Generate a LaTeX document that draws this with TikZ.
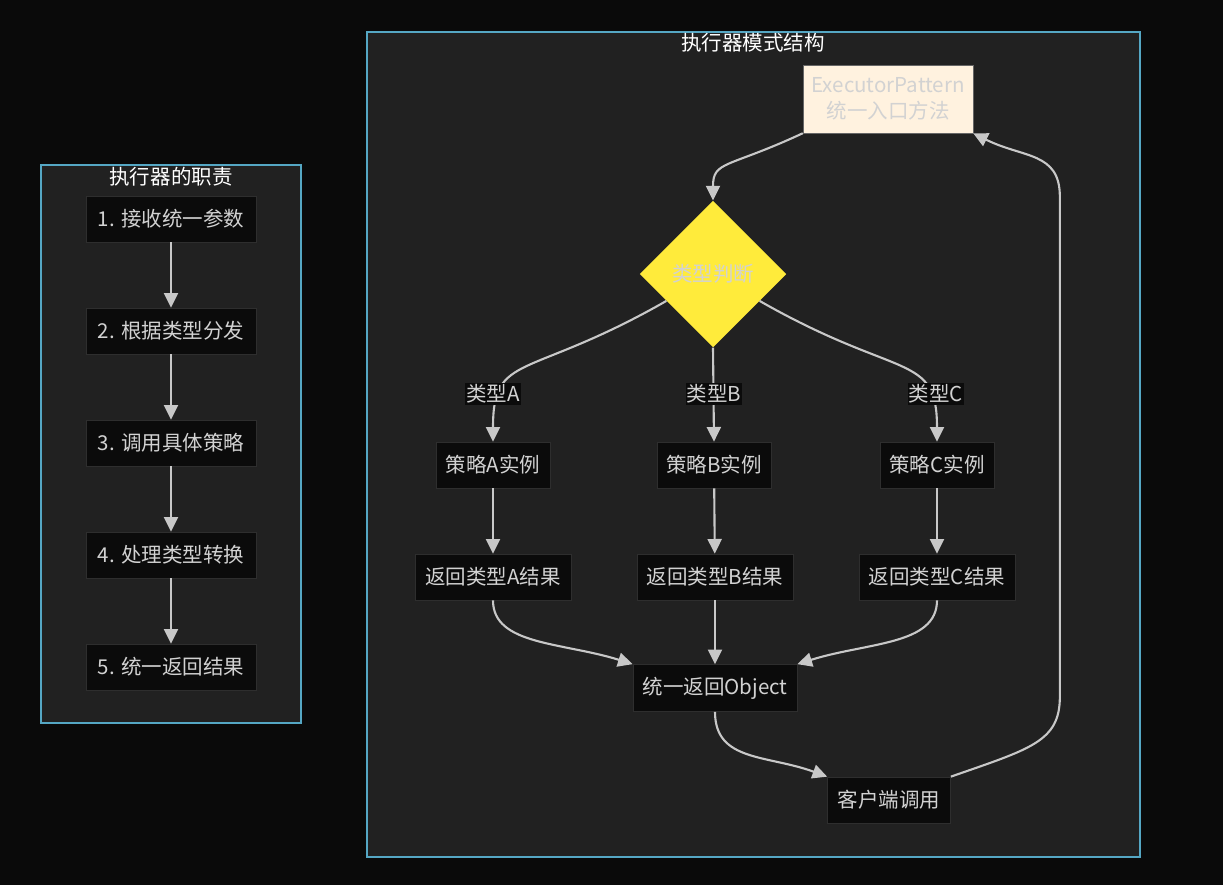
\documentclass[tikz,border=0pt]{standalone}
\usepackage{fontspec}
\setmainfont{Noto Sans CJK SC}
\usepackage{xcolor}
\definecolor{exdark}{HTML}{0A0A0A}
\definecolor{exgroup}{HTML}{212121}
\definecolor{exborder}{HTML}{55A7C4}
\definecolor{exnode}{HTML}{0B0B0B}
\definecolor{exnodeline}{HTML}{2E2E2E}
\definecolor{extext}{HTML}{D2D2D2}
\definecolor{exline}{HTML}{C8C8C8}
\definecolor{exentry}{HTML}{FFF2DF}
\definecolor{exyellow}{HTML}{FFEB3B}
\usetikzlibrary{shapes.geometric,arrows.meta,positioning}

\begin{document}
\begin{tikzpicture}[x=0.03cm, y=-0.03cm,
  every node/.style={font=\fontsize{17.5pt}{21pt}\selectfont},
  group/.style={draw=exborder, fill=exgroup, line width=0.9pt},
  gtitle/.style={text=white, inner sep=0pt},
  box/.style={draw=exnodeline, fill=exnode, text=extext, line width=0.6pt,
              minimum height=1.38cm, inner sep=0pt},
  entry/.style={draw=black!60, fill=exentry, text=extext, align=center,
                minimum width=5.1cm, minimum height=2.04cm, inner sep=0pt,
                font=\fontsize{17.5pt}{22pt}\selectfont},
  decide/.style={diamond, fill=exyellow, text=extext, aspect=1,
                 minimum width=4.4cm, minimum height=4.4cm, inner sep=0pt},
  elabel/.style={fill=exnode, text=extext, inner sep=1pt},
  arr/.style={-{Triangle[length=12.5pt,width=12pt]}, draw=exline, line width=1.8pt}
]
  \fill[exdark] (0,0) rectangle (1223,885);

  % left group
  \draw[group] (41,165) rectangle (301,723);
  \node[gtitle] (lt) at (171,177) {执行器的职责};

  \node[box, minimum width=5.1cm] (d1) at (171,219) {1. 接收统一参数};
  \node[box, minimum width=5.1cm] (d2) at (171,331) {2. 根据类型分发};
  \node[box, minimum width=5.1cm] (d3) at (171,443) {3. 调用具体策略};
  \node[box, minimum width=5.1cm] (d4) at (171,555) {4. 处理类型转换};
  \node[box, minimum width=5.1cm] (d5) at (171,667) {5. 统一返回结果};

  \draw[arr] (d1) -- (d2);
  \draw[arr] (d2) -- (d3);
  \draw[arr] (d3) -- (d4);
  \draw[arr] (d4) -- (d5);

  % right group
  \draw[group] (367,32) rectangle (1140,857);
  \node[gtitle] (rt) at (753,43) {执行器模式结构};

  \node[entry] (ep) at (888,99) {ExecutorPattern\\统一入口方法};
  \node[decide] (dec) at (713,274) {类型判断};

  \node[box, minimum width=3.42cm] (sA) at (493,465) {策略A实例};
  \node[box, minimum width=3.42cm] (sB) at (714,465) {策略B实例};
  \node[box, minimum width=3.42cm] (sC) at (937,465) {策略C实例};

  \node[box, minimum width=4.68cm] (rA) at (493,577) {返回类型A结果};
  \node[box, minimum width=4.68cm] (rB) at (715,577) {返回类型B结果};
  \node[box, minimum width=4.68cm] (rC) at (937,577) {返回类型C结果};

  \node[box, minimum width=4.92cm, minimum height=1.41cm] (obj) at (715,688) {统一返回Object};
  \node[box, minimum width=3.69cm] (cl) at (889,800) {客户端调用};

  \draw[arr] (ep.south west) .. controls +(-75,35) and +(0,-40) .. (dec.north);
  \draw[arr] (dec.210) .. controls +(-140,80) and +(0,-90) .. (sA.north);
  \draw[arr] (dec.south) -- (sB.north);
  \draw[arr] (dec.330) .. controls +(140,80) and +(0,-90) .. (sC.north);

  \draw[arr] (sA) -- (rA);
  \draw[arr] (sB) -- (rB);
  \draw[arr] (sC) -- (rC);

  \draw[arr] (rA.south) .. controls +(0,45) and +(-70,-22) .. (obj.north west);
  \draw[arr] (rB.south) -- (obj.north);
  \draw[arr] (rC.south) .. controls +(0,45) and +(70,-22) .. (obj.north east);

  \draw[arr] (obj.south) .. controls +(0,50) and +(-60,-22) .. (cl.north west);
  \draw[arr] (cl.north east) .. controls +(80,-28) and +(0,45) .. ++(109,-80)
    -- ++(0,-500) .. controls +(0,-45) and +(50,25) .. (ep.south east);

  \node[elabel] (lA) at (493,394) {类型A};
  \node[elabel] (lB) at (714,394) {类型B};
  \node[elabel] (lC) at (936,394) {类型C};

\end{tikzpicture}
\end{document}
